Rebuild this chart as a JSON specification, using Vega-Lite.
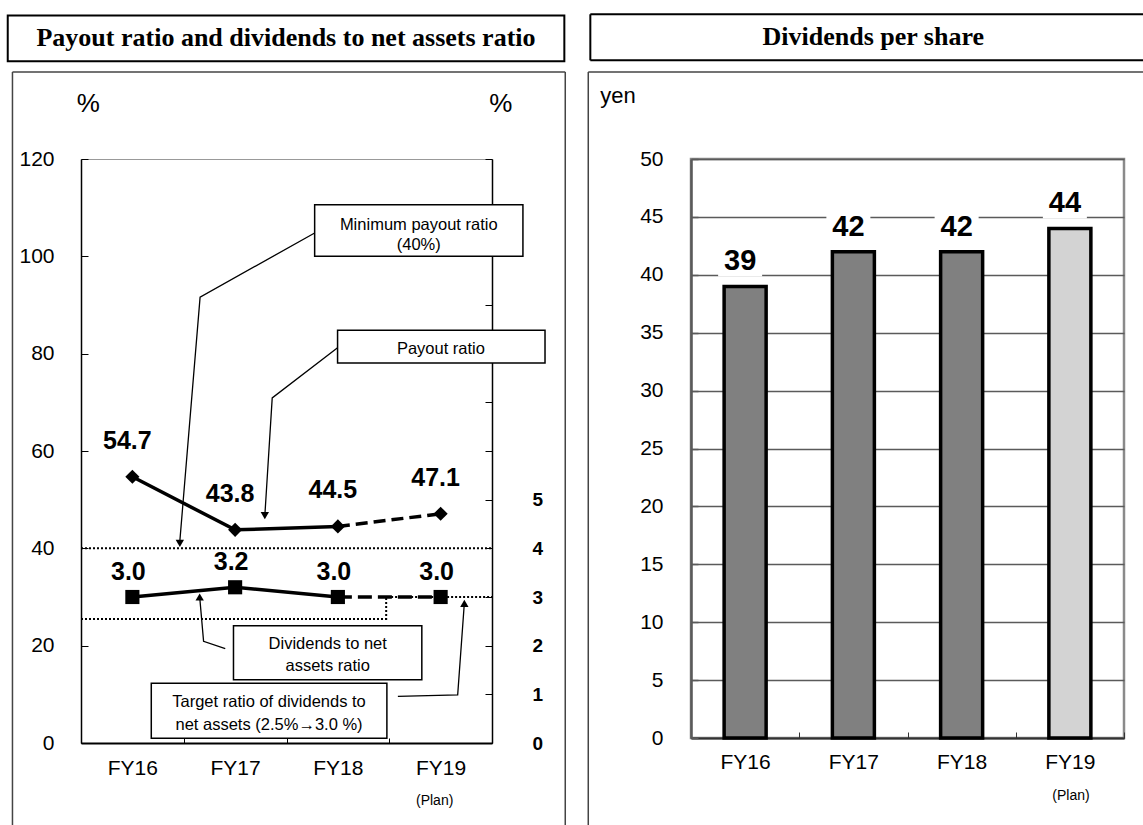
{
  "$schema": "https://vega.github.io/schema/vega-lite/v6.json",
  "background": "white",
  "padding": {"left": 6, "top": 12, "right": 0, "bottom": 0},
  "spacing": 19,
  "config": {
    "font": "Liberation Sans",
    "view": {"stroke": "#888888"},
    "axis": {"labelFont": "Liberation Sans", "labelColor": "black", "grid": false, "titleColor": "black"},
    "text": {"font": "Liberation Sans", "color": "black"}
  },
  "datasets": {
    "ratios": [
      {"fy": "FY16", "payout": 54.7, "dna": 3.0},
      {"fy": "FY17", "payout": 43.8, "dna": 3.2},
      {"fy": "FY18", "payout": 44.5, "dna": 3.0},
      {"fy": "FY19", "payout": 47.1, "dna": 3.0}
    ],
    "dps": [
      {"fy": "FY16", "dps": 39, "status": "Actual"},
      {"fy": "FY17", "dps": 42, "status": "Actual"},
      {"fy": "FY18", "dps": 42, "status": "Actual"},
      {"fy": "FY19", "dps": 44, "status": "Plan"}
    ],
    "lRefLines": [
      {"id": "min", "o": 1, "x": 0, "y": 40},
      {"id": "min", "o": 2, "x": 4, "y": 40},
      {"id": "target", "o": 1, "x": 0, "y": 25.5},
      {"id": "target", "o": 2, "x": 2.97, "y": 25.5},
      {"id": "target", "o": 3, "x": 2.97, "y": 30},
      {"id": "target", "o": 4, "x": 4, "y": 30}
    ],
    "lBoxes": [
      {"x1": 2.274, "x2": 4.301, "y1": 110.6, "y2": 100.0},
      {"x1": 2.497, "x2": 4.516, "y1": 84.8, "y2": 78.1},
      {"x1": 1.484, "x2": 3.317, "y1": 24.1, "y2": 13.0},
      {"x1": 0.684, "x2": 2.977, "y1": 12.3, "y2": 1.0}
    ],
    "lBoxText": [
      {"x": 3.287, "y": 106.5, "t": "Minimum payout ratio"},
      {"x": 3.287, "y": 102.4, "t": "(40%)"},
      {"x": 3.503, "y": 81.0, "t": "Payout ratio"},
      {"x": 2.401, "y": 20.3, "t": "Dividends to net"},
      {"x": 2.401, "y": 15.9, "t": "assets ratio"},
      {"x": 1.83, "y": 8.4, "t": "Target ratio of dividends to"},
      {"x": 1.83, "y": 3.8, "t": "net assets (2.5%→3.0 %)"}
    ],
    "lLeaders": [
      {"id": "a", "o": 1, "x": 2.274, "y": 104.8},
      {"id": "a", "o": 2, "x": 1.159, "y": 91.6},
      {"id": "a", "o": 3, "x": 0.962, "y": 41.5},
      {"id": "b", "o": 1, "x": 2.497, "y": 81.2},
      {"id": "b", "o": 2, "x": 1.861, "y": 70.9},
      {"id": "b", "o": 3, "x": 1.79, "y": 47.0},
      {"id": "c", "o": 1, "x": 1.404, "y": 19.4},
      {"id": "c", "o": 2, "x": 1.193, "y": 20.9},
      {"id": "c", "o": 3, "x": 1.156, "y": 29.8},
      {"id": "d", "o": 1, "x": 3.084, "y": 9.6},
      {"id": "d", "o": 2, "x": 3.666, "y": 9.9},
      {"id": "d", "o": 3, "x": 3.73, "y": 28.5}
    ],
    "lArrowDown": [
      {"x": 0.962, "y": 41.0},
      {"x": 1.789, "y": 46.7}
    ],
    "lArrowUp": [
      {"x": 1.155, "y": 30.0},
      {"x": 3.731, "y": 28.7}
    ],
    "lTitleBox": [
      {"x1": -0.713, "x2": 4.704, "y1": 140.07, "y2": 149.5}
    ],
    "lTitle": [
      {"x": 1.995, "y": 144.8, "t": "Payout ratio and dividends to net assets ratio"}
    ],
    "lFrame": [
      {"x": -0.667, "y": -16.9, "x2": -0.667, "y2": 137.87},
      {"x": -0.667, "y": 137.87, "x2": 4.713, "y2": 137.87},
      {"x": 4.713, "y": 137.87, "x2": 4.713, "y2": -16.9}
    ],
    "lPct": [
      {"x": 0.071, "y": 131.4, "t": "%"},
      {"x": 4.086, "y": 131.4, "t": "%"}
    ],
    "lPlan": [
      {"x": 3.442, "y": -12.0, "t": "(Plan)"}
    ],
    "rFrame": [
      {"x": -0.949, "y": -7.54, "x2": -0.949, "y2": 57.51},
      {"x": -0.949, "y": 57.51, "x2": 4.18, "y2": 57.51}
    ],
    "rTitleBox": [
      {"x": -0.93, "y": 58.52, "x2": -0.93, "y2": 62.5},
      {"x": -0.93, "y": 62.5, "x2": 4.18, "y2": 62.5},
      {"x": -0.93, "y": 58.52, "x2": 4.18, "y2": 58.52}
    ],
    "rTitle": [
      {"x": 1.684, "y": 60.51, "t": "Dividends per share"}
    ],
    "rYen": [
      {"x": -0.838, "y": 55.42, "t": "yen"}
    ],
    "rPlan": [
      {"x": 3.51, "y": -5.03, "t": "(Plan)"}
    ]
  },
  "hconcat": [
    {
      "width": 411,
      "height": 584,
      "view": {"stroke": "#999999", "strokeWidth": 1},
      "resolve": {"scale": {"x": "independent", "y": "independent"}, "axis": {"x": "independent", "y": "independent"}},
      "layer": [
        {
          "data": {"name": "ratios"},
          "encoding": {
            "x": {
              "field": "fy", "type": "ordinal",
              "scale": {"type": "band", "domain": ["FY16", "FY17", "FY18", "FY19"], "paddingInner": 0, "paddingOuter": 0},
              "axis": {"orient": "bottom", "title": null, "labelAngle": 0, "tickBand": "extent", "tickSize": -5, "labelPadding": 19, "labelFontSize": 21, "domainColor": "black", "domainWidth": 2, "tickColor": "black", "tickWidth": 1}
            },
            "y": {
              "field": "payout", "type": "quantitative",
              "scale": {"domain": [0, 120], "nice": false},
              "axis": {"orient": "left", "title": null, "values": [0, 20, 40, 60, 80, 100, 120], "tickSize": -7, "labelPadding": 34, "labelFontSize": 21, "domainColor": "black", "domainWidth": 1.5, "tickColor": "black", "grid": false}
            }
          },
          "layer": [
            {"transform": [{"filter": "datum.fy != 'FY19'"}], "mark": {"type": "line", "color": "black", "strokeWidth": 3.5}},
            {"transform": [{"filter": "datum.fy == 'FY18' || datum.fy == 'FY19'"}], "mark": {"type": "line", "color": "black", "strokeWidth": 3.5, "strokeDash": [12, 6]}},
            {"mark": {"type": "point", "shape": "diamond", "filled": true, "color": "black", "size": 200, "opacity": 1}},
            {"mark": {"type": "text", "fontSize": 25, "fontWeight": "bold", "dy": -36, "dx": -5}, "encoding": {"text": {"field": "payout", "type": "quantitative", "format": ".1f"}}}
          ]
        },
        {
          "data": {"name": "ratios"},
          "encoding": {
            "x": {
              "field": "fy", "type": "ordinal",
              "scale": {"type": "band", "domain": ["FY16", "FY17", "FY18", "FY19"], "paddingInner": 0, "paddingOuter": 0},
              "axis": null
            },
            "y": {
              "field": "dna", "type": "quantitative",
              "scale": {"domain": [0, 12], "nice": false},
              "axis": {"orient": "right", "title": null, "values": [0, 1, 2, 3, 4, 5, 6, 7, 8, 9, 10, 11, 12], "labelExpr": "datum.value <= 5 ? datum.label : ''", "tickSize": -7, "labelPadding": 47, "labelFontSize": 19, "labelFontWeight": "bold", "domainColor": "black", "domainWidth": 1.5, "tickColor": "black", "grid": false}
            }
          },
          "layer": [
            {"transform": [{"filter": "datum.fy != 'FY19'"}], "mark": {"type": "line", "color": "black", "strokeWidth": 3.5}},
            {"transform": [{"filter": "datum.fy == 'FY18' || datum.fy == 'FY19'"}], "mark": {"type": "line", "color": "black", "strokeWidth": 3.5, "strokeDash": [14, 6]}},
            {"mark": {"type": "point", "shape": "square", "filled": true, "color": "black", "size": 200, "opacity": 1}},
            {"mark": {"type": "text", "fontSize": 25, "fontWeight": "bold", "dy": -25, "dx": -4}, "encoding": {"text": {"field": "dna", "type": "quantitative", "format": ".1f"}}}
          ]
        },
        {
          "layer": [
            {
              "data": {"name": "lRefLines"},
              "mark": {"type": "line", "color": "black", "strokeWidth": 2, "strokeDash": [2, 2], "clip": false},
              "encoding": {
                "x": {"field": "x", "type": "quantitative", "scale": {"domain": [0, 4], "nice": false, "zero": false}, "axis": null},
                "y": {"field": "y", "type": "quantitative", "scale": {"domain": [0, 120], "nice": false, "zero": false}, "axis": null},
                "detail": {"field": "id"},
                "order": {"field": "o", "type": "quantitative"}
              }
            },
            {
              "data": {"name": "lLeaders"},
              "mark": {"type": "line", "color": "black", "strokeWidth": 1.3, "clip": false},
              "encoding": {
                "x": {"field": "x", "type": "quantitative", "scale": {"domain": [0, 4], "nice": false, "zero": false}, "axis": null},
                "y": {"field": "y", "type": "quantitative", "scale": {"domain": [0, 120], "nice": false, "zero": false}, "axis": null},
                "detail": {"field": "id"},
                "order": {"field": "o", "type": "quantitative"}
              }
            },
            {
              "data": {"name": "lArrowDown"},
              "mark": {"type": "point", "shape": "triangle-down", "filled": true, "color": "black", "size": 70, "opacity": 1, "clip": false},
              "encoding": {
                "x": {"field": "x", "type": "quantitative", "scale": {"domain": [0, 4], "nice": false, "zero": false}, "axis": null},
                "y": {"field": "y", "type": "quantitative", "scale": {"domain": [0, 120], "nice": false, "zero": false}, "axis": null}
              }
            },
            {
              "data": {"name": "lArrowUp"},
              "mark": {"type": "point", "shape": "triangle-up", "filled": true, "color": "black", "size": 70, "opacity": 1, "clip": false},
              "encoding": {
                "x": {"field": "x", "type": "quantitative", "scale": {"domain": [0, 4], "nice": false, "zero": false}, "axis": null},
                "y": {"field": "y", "type": "quantitative", "scale": {"domain": [0, 120], "nice": false, "zero": false}, "axis": null}
              }
            },
            {
              "data": {"name": "lBoxes"},
              "mark": {"type": "rect", "fill": "white", "stroke": "black", "strokeWidth": 1.5, "clip": false},
              "encoding": {
                "x": {"field": "x1", "type": "quantitative", "scale": {"domain": [0, 4], "nice": false, "zero": false}, "axis": null},
                "x2": {"field": "x2"},
                "y": {"field": "y1", "type": "quantitative", "scale": {"domain": [0, 120], "nice": false, "zero": false}, "axis": null},
                "y2": {"field": "y2"}
              }
            },
            {
              "data": {"name": "lBoxText"},
              "mark": {"type": "text", "fontSize": 16.5, "align": "center", "baseline": "middle", "clip": false},
              "encoding": {
                "x": {"field": "x", "type": "quantitative", "scale": {"domain": [0, 4], "nice": false, "zero": false}, "axis": null},
                "y": {"field": "y", "type": "quantitative", "scale": {"domain": [0, 120], "nice": false, "zero": false}, "axis": null},
                "text": {"field": "t"}
              }
            },
            {
              "data": {"name": "lTitleBox"},
              "mark": {"type": "rect", "fill": "white", "stroke": "black", "strokeWidth": 2, "clip": false},
              "encoding": {
                "x": {"field": "x1", "type": "quantitative", "scale": {"domain": [0, 4], "nice": false, "zero": false}, "axis": null},
                "x2": {"field": "x2"},
                "y": {"field": "y1", "type": "quantitative", "scale": {"domain": [0, 120], "nice": false, "zero": false}, "axis": null},
                "y2": {"field": "y2"}
              }
            },
            {
              "data": {"name": "lTitle"},
              "mark": {"type": "text", "font": "Liberation Serif", "fontWeight": "bold", "fontSize": 26, "align": "center", "baseline": "middle", "clip": false},
              "encoding": {
                "x": {"field": "x", "type": "quantitative", "scale": {"domain": [0, 4], "nice": false, "zero": false}, "axis": null},
                "y": {"field": "y", "type": "quantitative", "scale": {"domain": [0, 120], "nice": false, "zero": false}, "axis": null},
                "text": {"field": "t"}
              }
            },
            {
              "data": {"name": "lFrame"},
              "mark": {"type": "rule", "color": "#444444", "strokeWidth": 1.5, "clip": false},
              "encoding": {
                "x": {"field": "x", "type": "quantitative", "scale": {"domain": [0, 4], "nice": false, "zero": false}, "axis": null},
                "x2": {"field": "x2"},
                "y": {"field": "y", "type": "quantitative", "scale": {"domain": [0, 120], "nice": false, "zero": false}, "axis": null},
                "y2": {"field": "y2"}
              }
            },
            {
              "data": {"name": "lPct"},
              "mark": {"type": "text", "fontSize": 26, "align": "center", "baseline": "middle", "clip": false},
              "encoding": {
                "x": {"field": "x", "type": "quantitative", "scale": {"domain": [0, 4], "nice": false, "zero": false}, "axis": null},
                "y": {"field": "y", "type": "quantitative", "scale": {"domain": [0, 120], "nice": false, "zero": false}, "axis": null},
                "text": {"field": "t"}
              }
            },
            {
              "data": {"name": "lPlan"},
              "mark": {"type": "text", "fontSize": 14, "align": "center", "baseline": "middle", "clip": false},
              "encoding": {
                "x": {"field": "x", "type": "quantitative", "scale": {"domain": [0, 4], "nice": false, "zero": false}, "axis": null},
                "y": {"field": "y", "type": "quantitative", "scale": {"domain": [0, 120], "nice": false, "zero": false}, "axis": null},
                "text": {"field": "t"}
              }
            }
          ]
        }
      ]
    },
    {
      "width": 433,
      "height": 579,
      "view": {"stroke": "#8a8a8a", "strokeWidth": 2.5},
      "resolve": {"scale": {"x": "independent", "y": "independent"}, "axis": {"x": "independent", "y": "independent"}},
      "layer": [
        {
          "data": {"name": "dps"},
          "encoding": {
            "x": {
              "field": "fy", "type": "ordinal",
              "scale": {"type": "band", "domain": ["FY16", "FY17", "FY18", "FY19"], "paddingInner": 0, "paddingOuter": 0},
              "axis": {"orient": "bottom", "title": null, "labelAngle": 0, "tickBand": "extent", "tickSize": -6, "labelPadding": 19, "labelFontSize": 21, "domainColor": "#333333", "domainWidth": 2, "tickColor": "#333333", "tickWidth": 1}
            },
            "y": {
              "field": "dps", "type": "quantitative",
              "scale": {"domain": [0, 50], "nice": false},
              "axis": {"orient": "left", "title": null, "values": [0, 5, 10, 15, 20, 25, 30, 35, 40, 45, 50], "tickSize": -7, "labelPadding": 35, "labelFontSize": 21, "grid": true, "gridColor": "#5a5a5a", "gridWidth": 1.3, "domainColor": "#5a5a5a", "domainWidth": 2.5, "tickColor": "#5a5a5a", "tickWidth": 1.5}
            }
          },
          "layer": [
            {
              "mark": {"type": "bar", "width": 42, "stroke": "black", "strokeWidth": 3.5},
              "encoding": {"color": {"field": "status", "type": "nominal", "scale": {"domain": ["Actual", "Plan"], "range": ["#808080", "#d3d3d3"]}, "legend": null}}
            },
            {
              "mark": {"type": "bar", "width": 44, "fill": "white", "xOffset": -5, "yOffset": -10, "y2Offset": -40},
              "encoding": {"y2": {"field": "dps"}}
            },
            {
              "mark": {"type": "text", "fontSize": 29, "fontWeight": "bold", "dy": -25, "dx": -5},
              "encoding": {"text": {"field": "dps", "type": "quantitative"}}
            }
          ]
        },
        {
          "layer": [
            {
              "data": {"name": "rFrame"},
              "mark": {"type": "rule", "color": "#444444", "strokeWidth": 1.5, "clip": false},
              "encoding": {
                "x": {"field": "x", "type": "quantitative", "scale": {"domain": [0, 4], "nice": false, "zero": false}, "axis": null},
                "x2": {"field": "x2"},
                "y": {"field": "y", "type": "quantitative", "scale": {"domain": [0, 50], "nice": false, "zero": false}, "axis": null},
                "y2": {"field": "y2"}
              }
            },
            {
              "data": {"name": "rTitleBox"},
              "mark": {"type": "rule", "color": "black", "strokeWidth": 2, "clip": false},
              "encoding": {
                "x": {"field": "x", "type": "quantitative", "scale": {"domain": [0, 4], "nice": false, "zero": false}, "axis": null},
                "x2": {"field": "x2"},
                "y": {"field": "y", "type": "quantitative", "scale": {"domain": [0, 50], "nice": false, "zero": false}, "axis": null},
                "y2": {"field": "y2"}
              }
            },
            {
              "data": {"name": "rTitle"},
              "mark": {"type": "text", "font": "Liberation Serif", "fontWeight": "bold", "fontSize": 26, "align": "center", "baseline": "middle", "clip": false},
              "encoding": {
                "x": {"field": "x", "type": "quantitative", "scale": {"domain": [0, 4], "nice": false, "zero": false}, "axis": null},
                "y": {"field": "y", "type": "quantitative", "scale": {"domain": [0, 50], "nice": false, "zero": false}, "axis": null},
                "text": {"field": "t"}
              }
            },
            {
              "data": {"name": "rYen"},
              "mark": {"type": "text", "fontSize": 22, "align": "left", "baseline": "middle", "clip": false},
              "encoding": {
                "x": {"field": "x", "type": "quantitative", "scale": {"domain": [0, 4], "nice": false, "zero": false}, "axis": null},
                "y": {"field": "y", "type": "quantitative", "scale": {"domain": [0, 50], "nice": false, "zero": false}, "axis": null},
                "text": {"field": "t"}
              }
            },
            {
              "data": {"name": "rPlan"},
              "mark": {"type": "text", "fontSize": 14, "align": "center", "baseline": "middle", "clip": false},
              "encoding": {
                "x": {"field": "x", "type": "quantitative", "scale": {"domain": [0, 4], "nice": false, "zero": false}, "axis": null},
                "y": {"field": "y", "type": "quantitative", "scale": {"domain": [0, 50], "nice": false, "zero": false}, "axis": null},
                "text": {"field": "t"}
              }
            }
          ]
        }
      ]
    }
  ]
}
